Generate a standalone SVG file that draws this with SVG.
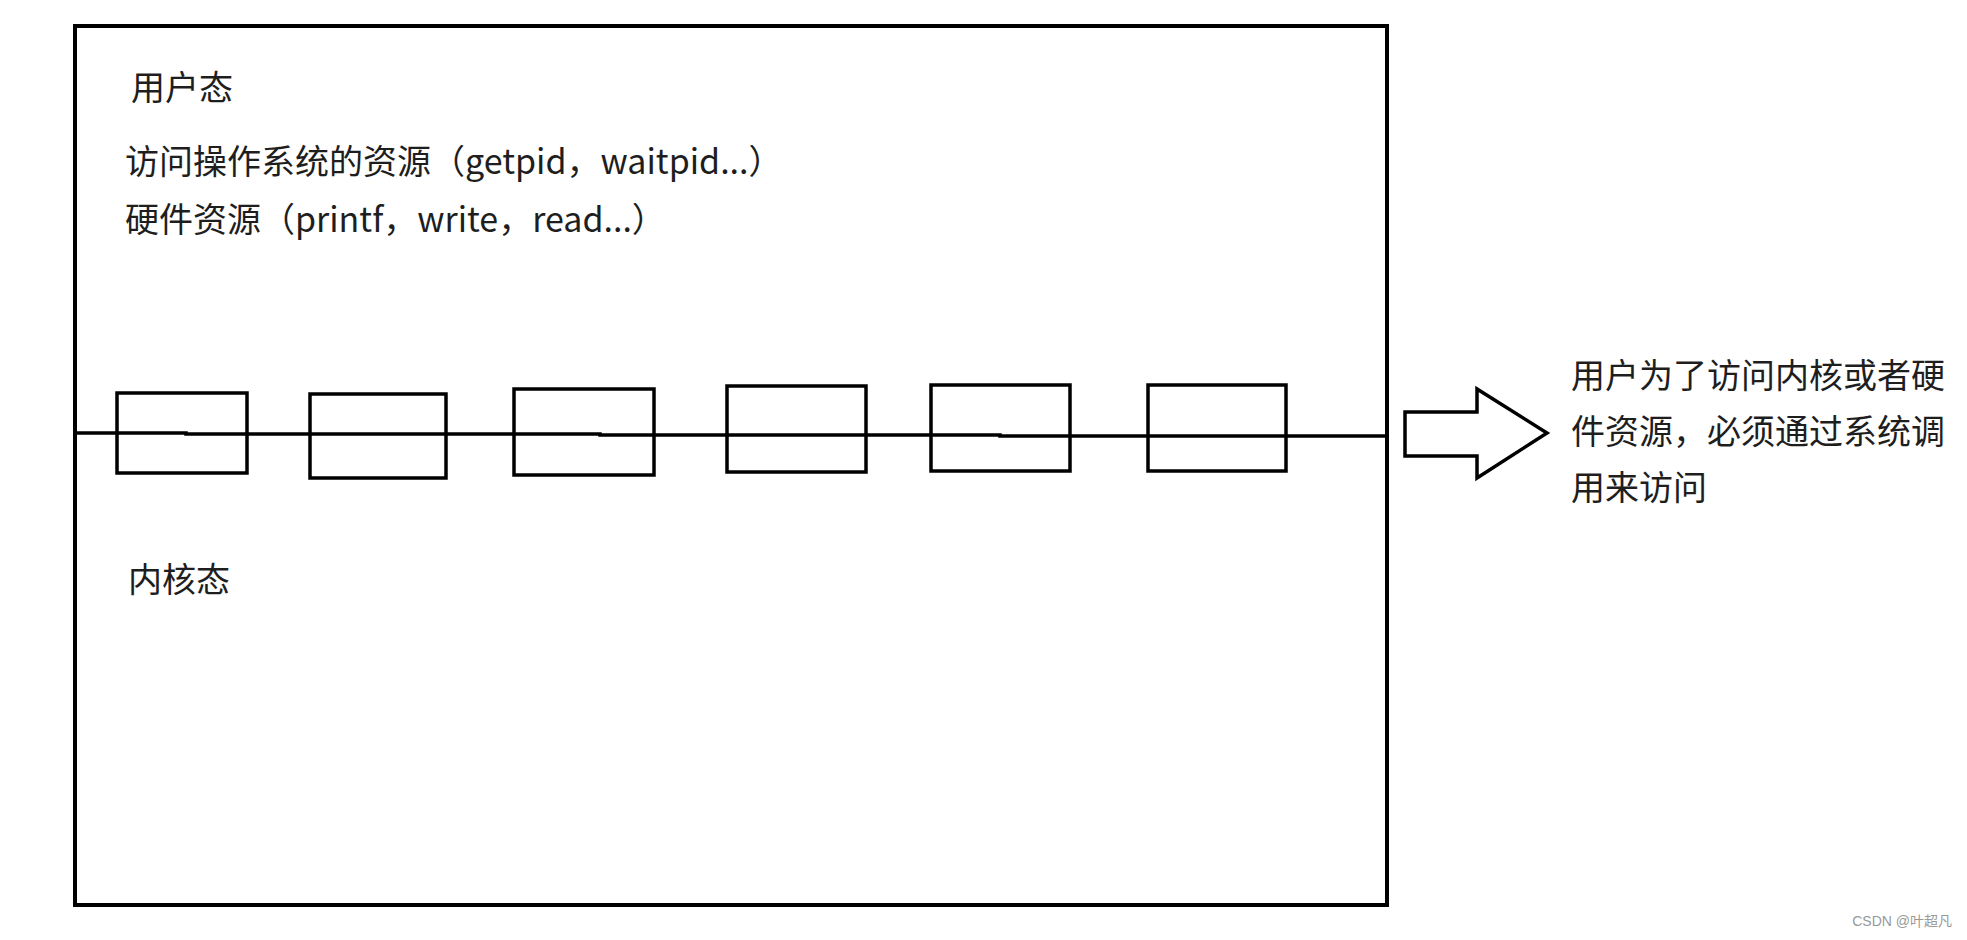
<svg xmlns="http://www.w3.org/2000/svg" width="1967" height="940" viewBox="0 0 1967 940">
<style>
.t{font-family:"Noto Sans CJK SC","Microsoft YaHei",sans-serif;font-size:34px;fill:#1e1e1e}
.box{fill:none;stroke:#000;stroke-width:3.5}
.ln{fill:none;stroke:#000;stroke-width:3.5}
.wm{font-family:"Liberation Sans","Noto Sans CJK SC",sans-serif;font-size:14px;fill:#999}
</style>
<rect width="1967" height="940" fill="#fff"/>
<g id="frame">
<rect x="75" y="26" width="1312" height="879" fill="none" stroke="#000" stroke-width="4"/>
</g>
<g id="labels">
<text class="t" x="131" y="100">用户态</text>
<text class="t" x="125" y="174">访问操作系统的资源（getpid，waitpid...）</text>
<text class="t" x="125" y="232">硬件资源（printf，write，read...）</text>
<text class="t" x="128" y="592">内核态</text>
</g>
<g id="connectors">
<polyline class="ln" points="75,433 186,433 186,434 600,434 600,435 1000,435 1000,436 1387,436"/>
</g>
<g id="node1"><rect class="box" x="117" y="393" width="130" height="80"/></g>
<g id="node2"><rect class="box" x="310" y="394" width="136" height="84"/></g>
<g id="node3"><rect class="box" x="514" y="389" width="140" height="86"/></g>
<g id="node4"><rect class="box" x="727" y="386" width="139" height="86"/></g>
<g id="node5"><rect class="box" x="931" y="385" width="139" height="86"/></g>
<g id="node6"><rect class="box" x="1148" y="385" width="138" height="86"/></g>
<g id="arrow">
<polygon points="1405,412 1477,412 1477,389 1547,433 1477,478 1477,456 1405,456" fill="#fff" stroke="#000" stroke-width="3.5" stroke-linejoin="miter"/>
</g>
<g id="note">
<text class="t" x="1571" y="388">用户为了访问内核或者硬</text>
<text class="t" x="1571" y="444">件资源，必须通过系统调</text>
<text class="t" x="1571" y="500">用来访问</text>
</g>
<text class="wm" x="1952" y="926" text-anchor="end">CSDN @叶超凡</text>
</svg>
